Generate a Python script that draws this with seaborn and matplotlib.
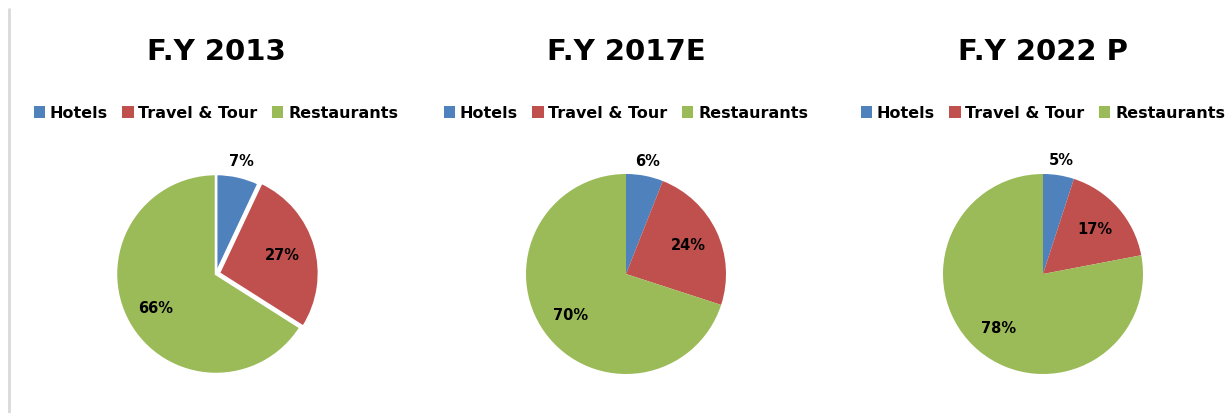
import matplotlib
matplotlib.use("Agg")
import numpy as np
import matplotlib.pyplot as plt
import matplotlib.lines as mlines
import matplotlib.patches as mpatches
import seaborn as sns

# Market share by segment
categories = ["Hotels", "Travel & Tour", "Restaurants"]
years = ["F.Y 2013", "F.Y 2017E", "F.Y 2022 P"]
share_2013 = [7, 27, 66]
share_2017 = [6, 24, 70]
share_2022 = [5, 17, 78]
shares = [share_2013, share_2017, share_2022]

sns.set_theme(style="white")
plt.rcParams["font.family"] = ["DejaVu Sans Condensed", "DejaVu Sans"]
plt.rcParams["text.color"] = "black"
colors = sns.color_palette(["#4F81BD", "#C0504D", "#9BBB59"])

W, H = 1232, 414
fig = plt.figure(figsize=(W / 100, H / 100), dpi=100)

centers_x = [216, 626, 1043]
center_y = 275
radius_px = 100

for i, (year, vals) in enumerate(zip(years, shares)):
    cx = centers_x[i]
    ax = fig.add_axes([(cx - radius_px) / W, (H - center_y - radius_px) / H,
                       2 * radius_px / W, 2 * radius_px / H])
    if i == 0:
        wprops = dict(edgecolor="white", linewidth=1.8)
        explode = [0, 0.03, 0]
    else:
        wprops = dict(edgecolor="none", linewidth=0)
        explode = [0, 0, 0]
    wedges, _ = ax.pie(vals, colors=colors, startangle=90, counterclock=False,
                       radius=1, wedgeprops=wprops, explode=explode)
    ax.set_xlim(-1, 1)
    ax.set_ylim(-1, 1)
    ax.set_aspect("equal")
    ax.axis("off")

    for w, v in zip(wedges, vals):
        ang = np.deg2rad((w.theta1 + w.theta2) / 2)
        r = 1.16 if v < 10 else 0.69
        ax.text(r * np.cos(ang), r * np.sin(ang), f"{v}%", ha="center", va="center",
                fontsize=10.5, fontweight="bold", color="black", clip_on=False)

    fig.text(cx / W, 1 - 52 / H, year, ha="center", va="center",
             fontsize=21, fontweight="bold", color="black")

    handles = [mpatches.Patch(facecolor=c, edgecolor="none", label=lab)
               for c, lab in zip(colors, categories)]
    leg = fig.legend(handles=handles, loc="center", bbox_to_anchor=(cx / W, 1 - 114 / H),
                     ncol=3, frameon=False, handlelength=0.7, handleheight=0.7,
                     handletextpad=0.3, columnspacing=0.9,
                     prop=dict(weight="bold", size=11.5))
    for t in leg.get_texts():
        t.set_color("black")

# left border rule
fig.add_artist(mlines.Line2D([9 / W, 9 / W], [0, 1 - 10 / H], color="#d9d9d9", linewidth=2))

fig.savefig("out.png", dpi=100, facecolor="white")
